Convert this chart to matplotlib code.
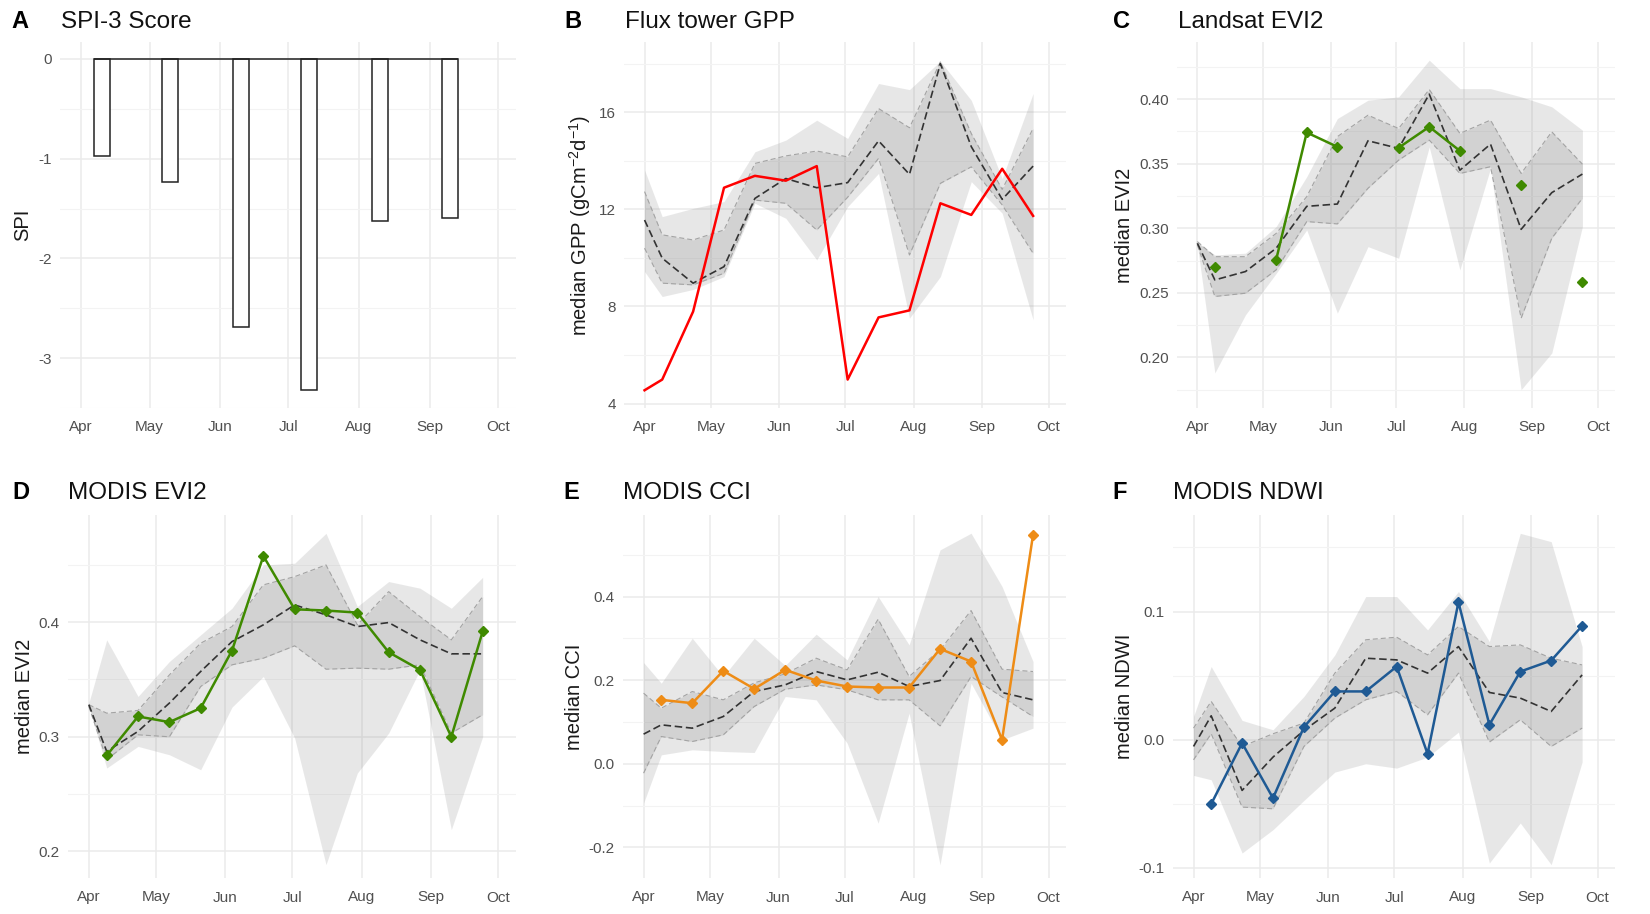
import matplotlib
matplotlib.use("Agg")
import matplotlib.pyplot as plt
import matplotlib.dates as mdates
import numpy as np
import pandas as pd

plt.rcParams['font.family'] = ['Liberation Sans', 'DejaVu Sans']
plt.rcParams['mathtext.fontset'] = 'custom'
plt.rcParams['mathtext.rm'] = 'Liberation Sans'
plt.rcParams['mathtext.it'] = 'Liberation Sans:italic'

# ---------------- data ----------------
DATES = ["2012-04-01", "2012-04-09", "2012-04-23", "2012-05-07", "2012-05-21",
         "2012-06-04", "2012-06-18", "2012-07-02", "2012-07-16", "2012-07-30",
         "2012-08-13", "2012-08-27", "2012-09-10", "2012-09-24"]
MONTHS = ["2012-04-01", "2012-05-01", "2012-06-01", "2012-07-01",
          "2012-08-01", "2012-09-01", "2012-10-01"]
MONTH_LABELS = ["Apr", "May", "Jun", "Jul", "Aug", "Sep", "Oct"]

# A: SPI-3
SPI_DATES = ["2012-04-10", "2012-05-10", "2012-06-10", "2012-07-10", "2012-08-10", "2012-09-10"]
SPI_VALUES = [-0.97, -1.23, -2.69, -3.32, -1.62, -1.59]

# B: Flux tower GPP
B_min = [9.44, 8.41, 8.70, 9.23, 12.25, 11.63, 9.92, 12.11, 13.48, 7.52, 9.23, 13.14, 11.84, 7.45]
B_qlo = [10.40, 8.96, 8.89, 9.37, 12.38, 12.25, 11.15, 12.50, 14.10, 10.12, 13.07, 13.75, 12.18, 10.19]
B_med = [11.56, 9.99, 8.96, 9.64, 12.45, 13.27, 12.89, 13.10, 14.82, 13.44, 18.00, 14.58, 12.41, 13.78]
B_qhi = [12.73, 10.95, 10.74, 11.15, 13.89, 14.20, 14.40, 14.16, 16.15, 15.36, 18.07, 15.12, 12.82, 15.33]
B_max = [13.62, 11.70, 12.04, 12.32, 14.37, 14.85, 15.67, 14.92, 17.18, 16.93, 18.10, 16.49, 13.27, 16.77]
B_obs = [4.55, 4.99, 7.79, 12.89, 13.38, 13.18, 13.78, 4.99, 7.55, 7.84, 12.25, 11.77, 13.67, 11.73]

# C: Landsat EVI2
C_min = [0.2871, 0.188, 0.233, 0.265, 0.2987, 0.2343, 0.2858, 0.2768, 0.363, 0.2678, 0.3464, 0.175, 0.2034, 0.3013]
C_qlo = [0.2871, 0.2472, 0.2497, 0.2678, 0.3052, 0.3034, 0.331, 0.3528, 0.3683, 0.3425, 0.3477, 0.2304, 0.2923, 0.3232]
C_med = [0.2884, 0.260, 0.2665, 0.2845, 0.317, 0.3188, 0.3678, 0.3619, 0.4039, 0.345, 0.3652, 0.2992, 0.3276, 0.342]
C_qhi = [0.2897, 0.278, 0.278, 0.296, 0.3245, 0.371, 0.3876, 0.3773, 0.4075, 0.3735, 0.3838, 0.3425, 0.3747, 0.3497]
C_max = [0.2889, 0.2794, 0.2807, 0.3013, 0.340, 0.385, 0.3992, 0.4018, 0.4302, 0.4082, 0.4082, 0.4018, 0.3941, 0.376]
C_obs = [np.nan, 0.2704, np.nan, 0.2755, 0.3742, 0.3631, np.nan, 0.3624, 0.3786, 0.360, np.nan, 0.3335, np.nan, 0.2582]

# D: MODIS EVI2
D_min = [0.3265, 0.2727, 0.2916, 0.2843, 0.2712, 0.3259, 0.3526, 0.2988, 0.1884, 0.2683, 0.3032, 0.3584, 0.2189, 0.300]
D_qlo = [0.3265, 0.280, 0.3017, 0.300, 0.3439, 0.3628, 0.3686, 0.3794, 0.359, 0.3599, 0.359, 0.3628, 0.3032, 0.3192]
D_med = [0.328, 0.2872, 0.3047, 0.3294, 0.357, 0.3831, 0.3977, 0.4151, 0.4064, 0.3962, 0.3997, 0.3846, 0.3724, 0.3724]
D_qhi = [0.328, 0.3206, 0.323, 0.354, 0.3817, 0.3962, 0.4326, 0.4398, 0.450, 0.3977, 0.4267, 0.4049, 0.3846, 0.4224]
D_max = [0.3294, 0.3846, 0.3352, 0.3657, 0.389, 0.4122, 0.450, 0.4515, 0.4776, 0.4137, 0.4355, 0.4297, 0.4122, 0.4392]
D_obs = [np.nan, 0.2837, 0.3177, 0.3128, 0.325, 0.3753, 0.4578, 0.4113, 0.4102, 0.4084, 0.3738, 0.3584, 0.300, 0.3919]

# E: MODIS CCI
E_min = [-0.094, 0.0215, 0.0335, 0.0295, 0.0271, 0.161, 0.153, 0.0494, -0.1418, 0.1211, -0.2414, 0.1928, 0.0574, 0.0853]
E_qlo = [-0.0223, 0.0653, 0.0534, 0.0693, 0.1371, 0.1785, 0.1888, 0.1769, 0.153, 0.153, 0.0908, 0.2088, 0.160, 0.1131]
E_med = [0.071, 0.0932, 0.0853, 0.1131, 0.1729, 0.1888, 0.2207, 0.2008, 0.2191, 0.1849, 0.1992, 0.3004, 0.1705, 0.153]
E_qhi = [0.1689, 0.1331, 0.1729, 0.153, 0.1936, 0.2151, 0.2526, 0.2247, 0.3458, 0.2088, 0.2725, 0.3665, 0.2263, 0.2207]
E_max = [0.2422, 0.1928, 0.3004, 0.2088, 0.3004, 0.235, 0.310, 0.2486, 0.400, 0.2845, 0.5116, 0.5514, 0.424, 0.2446]
E_obs = [np.nan, 0.153, 0.145, 0.2223, 0.1793, 0.2247, 0.1992, 0.1849, 0.1825, 0.1825, 0.2749, 0.2446, 0.0574, 0.5474]

# F: MODIS NDWI
F_min = [-0.0278, -0.0312, -0.0883, -0.0701, -0.0473, -0.0252, -0.0187, -0.0221, -0.0135, 0.006, -0.0961, -0.0649, -0.0974, -0.0174]
F_qlo = [-0.0156, 0.0047, -0.0525, -0.0538, -0.0052, 0.0169, 0.0312, 0.0377, 0.0195, 0.052, -0.0018, 0.0156, -0.0052, 0.0091]
F_med = [-0.0052, 0.0187, -0.0395, -0.0135, 0.0073, 0.0247, 0.0636, 0.0623, 0.052, 0.0727, 0.0369, 0.0325, 0.0221, 0.0506]
F_qhi = [0.0091, 0.0299, -0.0052, 0.0047, 0.013, 0.052, 0.078, 0.080, 0.0662, 0.0883, 0.0727, 0.074, 0.0636, 0.0584]
F_max = [0.0182, 0.0571, 0.0151, 0.0078, 0.0338, 0.0662, 0.1117, 0.1117, 0.0857, 0.1156, 0.0766, 0.161, 0.1545, 0.0727]
F_obs = [np.nan, -0.0501, -0.0026, -0.0455, 0.0099, 0.0377, 0.0377, 0.0571, -0.0109, 0.1073, 0.0117, 0.0532, 0.0618, 0.0888]

# ---------------- figure ----------------
W, H = 1650, 914
fig = plt.figure(figsize=(W / 100, H / 100), dpi=100)

dates = pd.to_datetime(DATES)
months = pd.to_datetime(MONTHS)
x_left = mdates.date2num(months[0]) - 9.3
x_right = mdates.date2num(months[-1]) + 7.9

TICK_COLOR = '#505050'
GRID_MAJOR = '#EBEBEB'
GRID_MINOR = '#F3F3F3'


def add_ax(l, r, t, b):
    return fig.add_axes([l / W, 1 - b / H, (r - l) / W, (b - t) / H])


def style(ax, yticks, yminor, ylim, ylabel, label_x_px, l, r, fmt):
    ax.set_xlim(x_left, x_right)
    ax.set_ylim(*ylim)
    ax.set_xticks(mdates.date2num(months))
    ax.set_xticklabels(MONTH_LABELS)
    ax.set_yticks(yticks)
    ax.set_yticklabels([fmt(v) for v in yticks])
    ax.set_yticks(yminor, minor=True)
    ax.grid(which='major', color=GRID_MAJOR, lw=1.1, zorder=0)
    ax.grid(which='minor', axis='y', color=GRID_MINOR, lw=0.8, zorder=0)
    ax.set_axisbelow(True)
    for s in ax.spines.values():
        s.set_visible(False)
    ax.tick_params(which='both', length=0, labelsize=11, labelcolor=TICK_COLOR)
    ax.tick_params(axis='x', pad=9)
    ax.tick_params(axis='y', pad=6)
    ax.set_ylabel(ylabel, fontsize=14.5, color='#1a1a1a')
    ax.yaxis.label.set_va('center')
    ax.yaxis.set_label_coords((label_x_px - l) / (r - l), 0.5)


def panel_title(letter, title, lx, tx, base_y):
    fig.text(lx / W, 1 - base_y / H, letter, fontsize=17, fontweight='bold',
             va='baseline', ha='left', color='black')
    fig.text(tx / W, 1 - base_y / H, title, fontsize=17.5,
             va='baseline', ha='left', color='#111111')


def bands(ax, mn, qlo, med, qhi, mx):
    ax.fill_between(dates, mn, mx, color='#7F7F7F', alpha=0.18, lw=0, zorder=1)
    ax.fill_between(dates, qlo, qhi, color='#7F7F7F', alpha=0.2, lw=0, zorder=2)
    ax.plot(dates, qlo, color='#A3A3A3', lw=0.8, dashes=(4.5, 2.7), zorder=3)
    ax.plot(dates, qhi, color='#A3A3A3', lw=0.8, dashes=(4.5, 2.7), zorder=3)
    ax.plot(dates, med, color='#333333', lw=1.2, dashes=(4.5, 2.2), zorder=4)


fmt_int = lambda v: f"{v:g}"
fmt2 = lambda v: f"{v:.2f}"
fmt1 = lambda v: f"{v:.1f}"

# ---- A ----
l, r, t, b = 60, 516, 42, 408
axA = add_ax(l, r, t, b)
spi_d = pd.to_datetime(SPI_DATES)
axA.bar(spi_d, SPI_VALUES, width=7, facecolor='white', edgecolor='#222222', lw=1.1, zorder=3)
axA.hlines(0, mdates.date2num(spi_d[0]) - 3.5, mdates.date2num(spi_d[-1]) + 3.5,
           color='#222222', lw=1.1, zorder=4)
style(axA, [0, -1, -2, -3], [-0.5, -1.5, -2.5, -3.5], (-3.50, 0.17), 'SPI', 23, l, r, fmt_int)
panel_title('A', 'SPI-3 Score', 11, 61, 28)

# ---- B ----
l, r, t, b = 624, 1066, 42, 408
axB = add_ax(l, r, t, b)
bands(axB, B_min, B_qlo, B_med, B_qhi, B_max)
axB.plot(dates, B_obs, color='#FF0000', lw=1.8, zorder=5)
style(axB, [4, 8, 12, 16], [6, 10, 14, 18], (3.82, 18.89),
      'median GPP (gCm$^{-2}$d$^{-1}$)', 580, l, r, fmt_int)
panel_title('B', 'Flux tower GPP', 564, 625, 28)

# ---- C ----
l, r, t, b = 1177, 1615, 42, 408
axC = add_ax(l, r, t, b)
bands(axC, C_min, C_qlo, C_med, C_qhi, C_max)
axC.plot(dates, C_obs, color='#3F8A00', lw=1.8, marker='D', ms=5.5, zorder=5)
style(axC, [0.20, 0.25, 0.30, 0.35, 0.40], [0.175, 0.225, 0.275, 0.325, 0.375, 0.425],
      (0.1608, 0.4443), 'median EVI2', 1125, l, r, fmt2)
panel_title('C', 'Landsat EVI2', 1113, 1178, 28)

# ---- D ----
l, r, t, b = 68, 516, 515, 878
axD = add_ax(l, r, t, b)
bands(axD, D_min, D_qlo, D_med, D_qhi, D_max)
axD.plot(dates, D_obs, color='#3F8A00', lw=1.8, marker='D', ms=5, zorder=5)
style(axD, [0.2, 0.3, 0.4], [0.25, 0.35, 0.45], (0.1767, 0.4936), 'median EVI2', 25, l, r, fmt1)
panel_title('D', 'MODIS EVI2', 12, 68, 499)

# ---- E ----
l, r, t, b = 623, 1066, 515, 878
axE = add_ax(l, r, t, b)
bands(axE, E_min, E_qlo, E_med, E_qhi, E_max)
axE.plot(dates, E_obs, color='#EE8C16', lw=1.8, marker='D', ms=5, zorder=5)
style(axE, [-0.2, 0.0, 0.2, 0.4], [-0.1, 0.1, 0.3, 0.5], (-0.273, 0.595), 'median CCI', 575, l, r, fmt1)
panel_title('E', 'MODIS CCI', 563, 623, 499)

# ---- F ----
l, r, t, b = 1173, 1615, 515, 878
axF = add_ax(l, r, t, b)
bands(axF, F_min, F_qlo, F_med, F_qhi, F_max)
axF.plot(dates, F_obs, color='#1F5A94', lw=1.8, marker='D', ms=5, zorder=5)
style(axF, [-0.1, 0.0, 0.1], [-0.05, 0.05, 0.15], (-0.1078, 0.1753), 'median NDWI', 1125, l, r, fmt1)
panel_title('F', 'MODIS NDWI', 1112, 1173, 499)

fig.savefig('out.png', dpi=100)
